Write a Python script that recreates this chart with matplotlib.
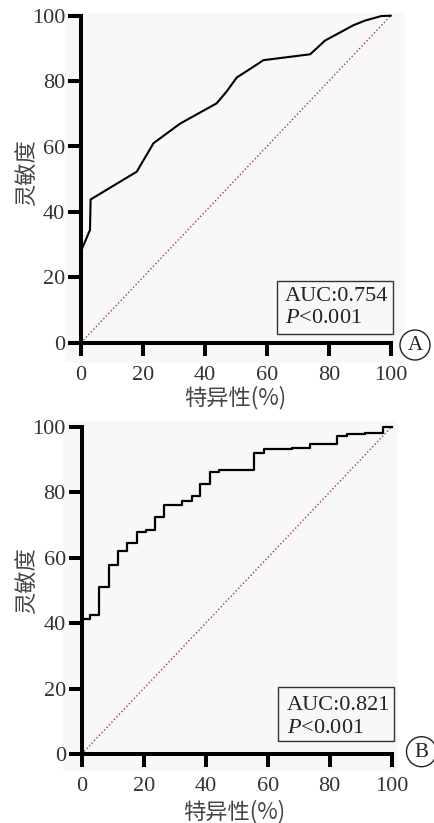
import matplotlib
matplotlib.use("Agg")
import matplotlib.pyplot as plt
from matplotlib.patches import Rectangle, Ellipse

# ---------------- data ----------------
ticks = [0, 20, 40, 60, 80, 100]
diag = [0, 100]

# Panel A ROC (specificity-axis %, sensitivity %)
a_x = [0, 2.9, 3.1, 18, 23.4, 32, 43.8, 47, 50.3, 55.7, 58.9, 74, 78.8, 88, 91.7, 97, 100]
a_y = [28, 34.5, 43.8, 52.3, 61, 67, 73.2, 76.8, 81.1, 84.4, 86.4, 88.2, 92.4, 97.1, 98.5, 99.9, 100]

# Panel B ROC step positions and levels
b_x = [0, 2.7, 5.7, 8.8, 11.8, 14.7, 17.7, 20.6, 23.7, 26.6, 32.5, 35.5, 38.3, 41.4, 44.3,
       55.7, 58.8, 67.7, 73.7, 82.5, 85.5, 91.4, 97.3, 100]
b_y = [41.2, 42.5, 50.9, 57.7, 62.1, 64.6, 67.7, 68.4, 72.3, 76.1, 77.4, 78.9, 82.4, 86.3, 86.8,
       92.1, 93.1, 93.6, 94.8, 97.1, 97.8, 98.2, 100, 100]

auc_a = "AUC:0.754"
auc_b = "AUC:0.821"
p_text = "$P$<0.001"
xlabel = "特异性(%)"
ylabel = "灵敏度"
panel_labels = ["A", "B"]

# ---------------- style ----------------
plt.rcParams['font.family'] = ['Liberation Serif', 'Noto Sans CJK SC']
plt.rcParams['mathtext.fontset'] = 'custom'
plt.rcParams['mathtext.rm'] = 'Liberation Serif'
plt.rcParams['mathtext.it'] = 'Liberation Serif:italic'

W, H = 435, 823
fig = plt.figure(figsize=(W / 100, H / 100), dpi=100)
fig.patch.set_facecolor('white')


def fx(px):
    return px / W


def fy(py):
    return 1 - py / H


def make_axes(x0, x1, y_top, y_bot):
    return fig.add_axes([fx(x0), fy(y_bot), fx(x1) - fx(x0), fy(y_top) - fy(y_bot)])


# gray background panels
for (x0, y0, x1, y1) in [(65, 13, 405, 363), (63, 421, 398, 771)]:
    fig.patches.append(Rectangle((fx(x0), fy(y1)), fx(x1) - fx(x0), fy(y0) - fy(y1),
                                 transform=fig.transFigure, facecolor='#f8f8f8',
                                 edgecolor='none', zorder=-5))

axA = make_axes(81, 390.7, 15.7, 342.7)
axB = make_axes(81.7, 391.7, 426.7, 754)

cjk = ['Noto Sans CJK SC']
txt_col = '#333333'
FS = 16

for ax in (axA, axB):
    ax.set_facecolor('none')
    ax.set_zorder(1)
    ax.set_xlim(0, 100)
    ax.set_ylim(0, 100)
    ax.set_xticks(ticks)
    ax.set_yticks(ticks)
    for s in ('top', 'right'):
        ax.spines[s].set_visible(False)
    for s in ('left', 'bottom'):
        ax.spines[s].set_linewidth(2.9)
        ax.spines[s].set_color('black')
        ax.spines[s].set_capstyle('projecting')
    ax.tick_params(axis='both', direction='out', length=9.4, width=2.9, color='black',
                   labelsize=FS, labelcolor=txt_col)
    ax.tick_params(axis='x', pad=7.5)
    ax.tick_params(axis='y', pad=2)
    ax.plot(diag, diag, color='#a83a44', lw=1.0, linestyle=(0, (1, 1.6)), clip_on=False)
    ax.set_xlabel(xlabel, fontsize=FS, family=cjk, color='#444444', va='center')
    ax.set_ylabel(ylabel, fontsize=FS, family=cjk, color='#444444', va='center')

axA.plot(a_x, a_y, color='black', lw=1.5, clip_on=False, solid_joinstyle='round')
axB.step(b_x, b_y, where='post', color='black', lw=1.6, clip_on=False)

axA.xaxis.set_label_coords(0.497, -0.169)
axA.yaxis.set_label_coords(-0.174, 0.519)
axB.xaxis.set_label_coords(0.491, -0.176)
axB.yaxis.set_label_coords(-0.174, 0.53)

# AUC boxes
boxes = [((277, 280.7, 392.7, 334), (285, 296.7, 318.3), auc_a),
         ((278, 687, 394, 741), (286.7, 705, 728.3), auc_b)]
for (x0, y0, x1, y1), (tx, t1, t2), auc in boxes:
    fig.patches.append(Rectangle((fx(x0), fy(y1)), fx(x1) - fx(x0), fy(y0) - fy(y1),
                                 transform=fig.transFigure, facecolor='none',
                                 edgecolor='#333333', lw=1.0, zorder=5))
    fig.text(fx(tx), fy(t1), auc, fontsize=FS, color='#222222', ha='left', va='center', zorder=6)
    fig.text(fx(tx), fy(t2), p_text, fontsize=FS, color='#222222', ha='left', va='center', zorder=6)

# panel circles
for (cx, cy), lab in zip([(415, 345), (421.5, 751.7)], panel_labels):
    fig.patches.append(Ellipse((fx(cx), fy(cy)), 30 / W, 30 / H, transform=fig.transFigure,
                               facecolor='white', edgecolor='#222222', lw=1.0, zorder=4))
    fig.text(fx(cx), fy(cy + 0.5), lab, fontsize=15, color='#222222', ha='center', va='center', zorder=6)

fig.savefig('out.png', dpi=100)
